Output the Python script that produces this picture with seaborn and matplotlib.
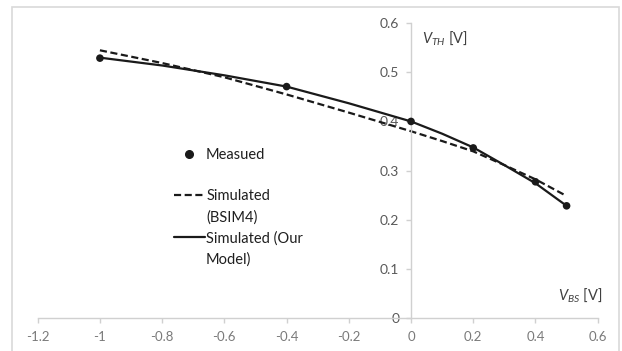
import matplotlib
matplotlib.use("Agg")
import matplotlib.pyplot as plt
import seaborn as sns
import pandas as pd
from matplotlib.lines import Line2D
from matplotlib.patches import Rectangle

# ---- data ----
vbs_meas = [-1.0, -0.4, 0.0, 0.2, 0.4, 0.5]
vth_meas = [0.529, 0.471, 0.400, 0.346, 0.277, 0.228]

vbs_sim = [-1.0, -0.8, -0.6, -0.4, -0.2, 0.0, 0.1, 0.2, 0.3, 0.4, 0.5]
vth_bsim4 = [0.545, 0.519, 0.490, 0.455, 0.418, 0.380, 0.360, 0.339, 0.311, 0.282, 0.248]
vth_model = [0.530, 0.514, 0.494, 0.471, 0.437, 0.400, 0.375, 0.347, 0.311, 0.274, 0.228]

xticks = [-1.2, -1.0, -0.8, -0.6, -0.4, -0.2, 0.0, 0.2, 0.4, 0.6]
xtick_labels = ["-1.2", "-1", "-0.8", "-0.6", "-0.4", "-0.2", "0", "0.2", "0.4", "0.6"]
yticks = [0.0, 0.1, 0.2, 0.3, 0.4, 0.5, 0.6]
ytick_labels = ["0", "0.1", "0.2", "0.3", "0.4", "0.5", "0.6"]

legend_labels = ["Measued", "", "Simulated", "(BSIM4)", "Simulated (Our", "Model)"]

df_meas = pd.DataFrame({"vbs": vbs_meas, "vth": vth_meas})
df_sim = pd.DataFrame({"vbs": vbs_sim, "bsim4": vth_bsim4, "model": vth_model})

# ---- style ----
sns.set_style("white")
plt.rcParams["font.family"] = ["Lato", "DejaVu Sans"]
plt.rcParams["mathtext.fontset"] = "custom"
plt.rcParams["mathtext.rm"] = "Lato"
plt.rcParams["mathtext.it"] = "Lato:italic"
plt.rcParams["axes.unicode_minus"] = False

W, H = 622, 351
fig = plt.figure(figsize=(W / 100, H / 100), dpi=100)
ax = fig.add_axes([37.7 / W, 1 - 317.7 / H, (597.7 - 37.7) / W, (317.7 - 23.3) / H])

line_col = "#1a1a1a"
sns.lineplot(data=df_sim, x="vbs", y="bsim4", ax=ax, color=line_col, lw=1.6,
             dashes=False, linestyle=(0, (3.2, 1.6)), label="_bsim4")
sns.lineplot(data=df_sim, x="vbs", y="model", ax=ax, color=line_col, lw=1.6, label="_model")
sns.scatterplot(data=df_meas, x="vbs", y="vth", ax=ax, color=line_col, s=30,
                edgecolor="none", zorder=5, label="_meas")

ax.set_xlim(-1.2, 0.6)
ax.set_ylim(0, 0.6)
ax.set_xticks(xticks)
ax.set_xticklabels(xtick_labels)
ax.set_yticks(yticks)
ax.set_yticklabels(ytick_labels)
ax.set_xlabel("")
ax.set_ylabel("")

spine_col = "#d0d0d0"
for s in ["top", "right"]:
    ax.spines[s].set_visible(False)
ax.spines["left"].set_position(("data", 0))
ax.spines["bottom"].set_position(("data", 0))
for s in ["left", "bottom"]:
    ax.spines[s].set_color(spine_col)
    ax.spines[s].set_linewidth(1.0)

ax.tick_params(axis="x", direction="out", length=3.5, width=1.0, color=spine_col,
               labelsize=9.5, labelcolor="#7a7a7a", pad=6, bottom=True)
ax.tick_params(axis="y", direction="out", length=3.5, width=1.0, color=spine_col,
               labelsize=10, labelcolor="#595959", pad=5, left=True)

# axis titles (figure pixel positions, y measured from top)
fig.text(421.7 / W, 1 - 38 / H, r"$V_{TH}$ [V]", fontsize=10.5, color="#404040",
         ha="left", va="center")
fig.text(602 / W, 1 - 295 / H, r"$V_{BS}$ [V]", fontsize=10.5, color="#404040",
         ha="right", va="center")

# legend
blank = Line2D([], [], linestyle="none")
h_meas = Line2D([], [], linestyle="none", marker="o", markersize=5.5, color=line_col)
h_bsim = Line2D([], [], color=line_col, lw=1.6, linestyle=(0, (3.2, 1.6)))
h_model = Line2D([], [], color=line_col, lw=1.6)
handles = [h_meas, blank, h_bsim, blank, h_model, blank]
leg = ax.legend(handles, legend_labels, loc="upper left", frameon=False,
                bbox_to_anchor=(174 / W, 1 - 148 / H), bbox_transform=fig.transFigure,
                fontsize=10.5, handlelength=2.1, handletextpad=0.1, labelspacing=0.46,
                borderpad=0, borderaxespad=0)
for t in leg.get_texts():
    t.set_color("#1f1f1f")

# outer chart frame
fig.patches.append(Rectangle((12 / W, -0.01), (619 - 12) / W, 1.01 - 7 / H,
                             transform=fig.transFigure, fill=False,
                             edgecolor="#d9d9d9", lw=1.2))

fig.savefig("out.png", dpi=100)
